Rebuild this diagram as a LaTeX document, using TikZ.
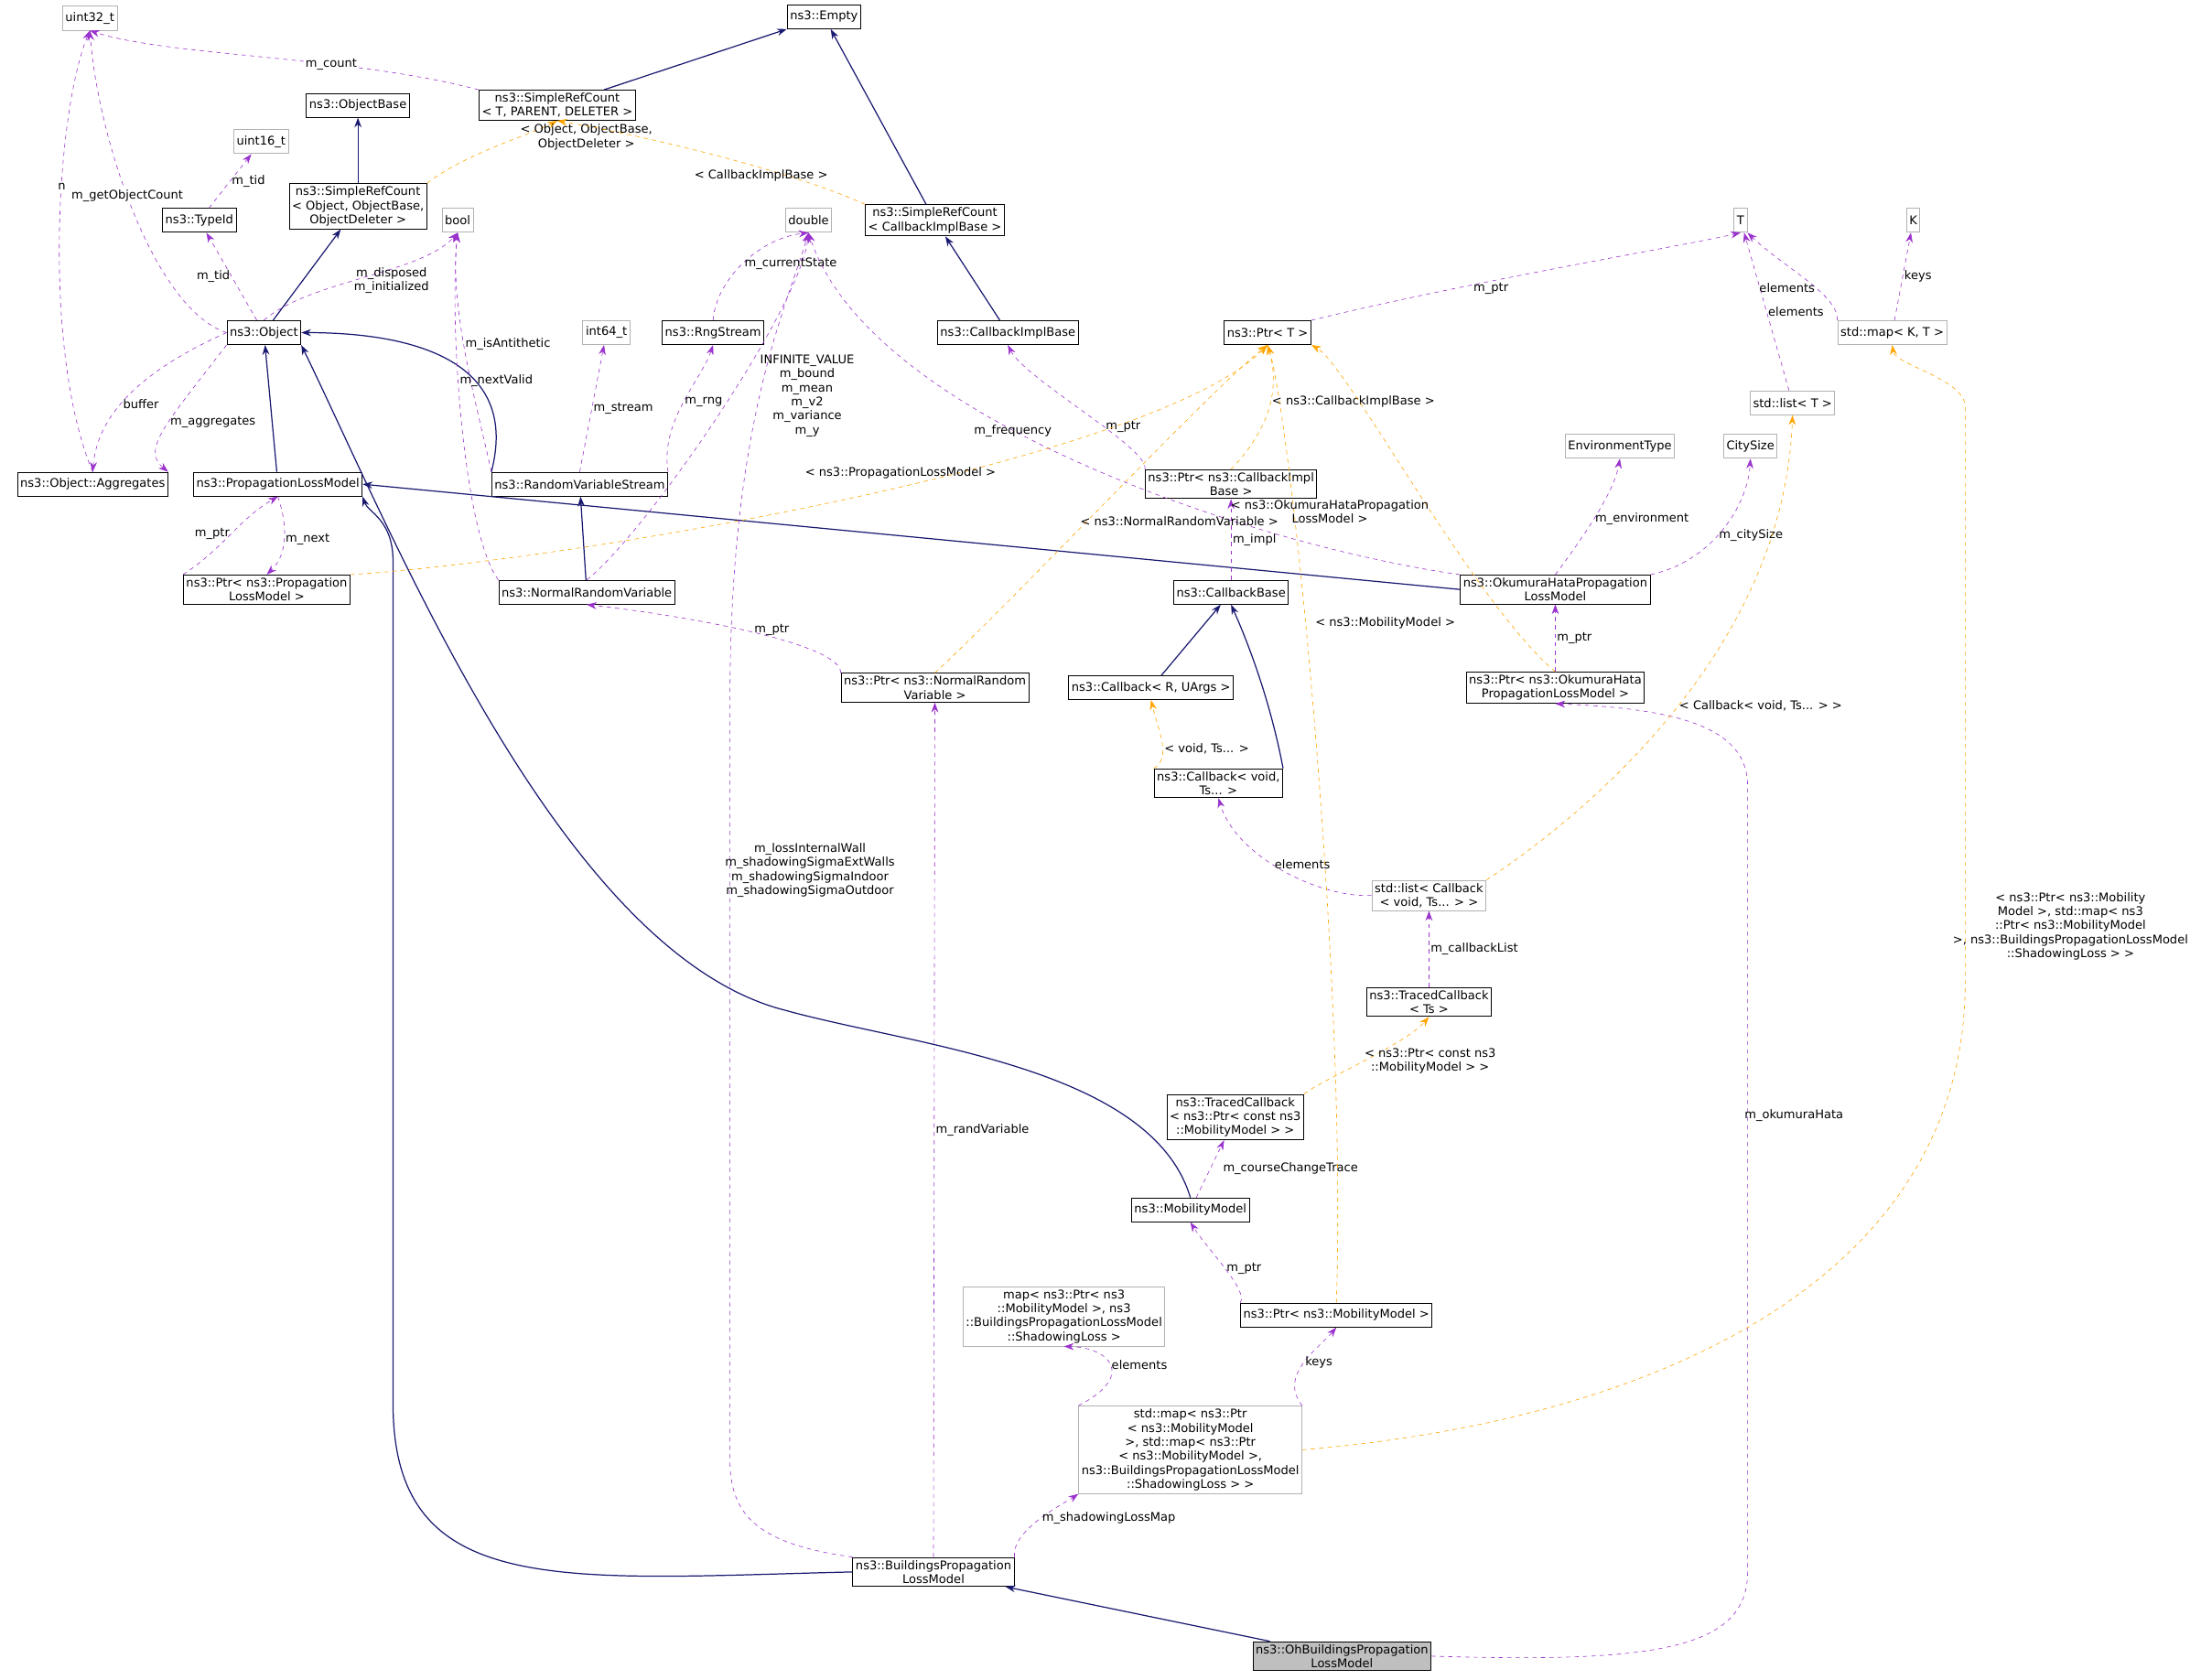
\documentclass[tikz,border=0pt]{standalone}
\usepackage{fontspec}
\setmainfont{DejaVu Sans}
\usetikzlibrary{arrows.meta, positioning}
\definecolor{depc}{HTML}{9A32CD}
\definecolor{inhc}{HTML}{191970}
\definecolor{tplc}{HTML}{FFA500}
\begin{document}
\begin{tikzpicture}[
x=1pt, y=-1pt,
      > = {Stealth[length=7pt, width=5pt]},
every node/.append style = {font=\fontsize{8.5}{10}\selectfont, align=center},
    B/.style = {draw, semithick, inner sep=2pt, minimum height=17pt},
    G/.style = {B, draw=black!30},
    L/.style = {inner sep=1pt},
  dep/.style = {->, draw=depc, dashed},
  inh/.style = {->, draw=inhc, thick},
  tpl/.style = {->, draw=tplc, dashed}
                    ]
\useasboundingbox (0,0) rectangle (1568,1197);
% classes
\node (u32)   [G] at (64,13)   {uint32\_t};
\node (empty) [B] at (587,12)  {ns3::Empty};
\node (src)   [B] at (397,75)  {ns3::SimpleRefCount\\< T, PARENT, DELETER >};
\node (obase) [B] at (255,75)  {ns3::ObjectBase};
\node (u16)   [G] at (186,101) {uint16\_t};
\node (tid)   [B] at (142,157) {ns3::TypeId};
\node (srco)  [B] at (255,147) {ns3::SimpleRefCount\\< Object, ObjectBase,\\ObjectDeleter >};
\node (bool)  [G] at (326,157) {bool};
\node (dbl)   [G] at (576,157) {double};
\node (srcc)  [B] at (666,157) {ns3::SimpleRefCount\\< CallbackImplBase >};
\node (T)     [G] at (1240,157) {T};
\node (K)     [G] at (1363,157) {K};
\node (obj)   [B] at (188,237) {ns3::Object};
\node (i64)   [G] at (432,237) {int64\_t};
\node (rng)   [B] at (508,237) {ns3::RngStream};
\node (cbib)  [B] at (718,237) {ns3::CallbackImplBase};
\node (ptrT)  [B] at (903,237) {ns3::Ptr< T >};
\node (mapKT) [G] at (1348,237) {std::map< K, T >};
\node (lstT)  [G] at (1277,287) {std::list< T >};
\node (aggr)  [B] at (66,345)  {ns3::Object::Aggregates};
\node (plm)   [B] at (198,345) {ns3::PropagationLossModel};
\node (rvs)   [B] at (413,345) {ns3::RandomVariableStream};
\node (pcbi)  [B] at (877,345) {ns3::Ptr< ns3::CallbackImpl\\Base >};
\node (env)   [G] at (1154,318) {EnvironmentType};
\node (city)  [G] at (1247,318) {CitySize};
\node (pplm)  [B] at (190,420) {ns3::Ptr< ns3::Propagation\\LossModel >};
\node (nrv)   [B] at (418,422) {ns3::NormalRandomVariable};
\node (cbb)   [B] at (877,422) {ns3::CallbackBase};
\node (ohp)   [B] at (1108,420) {ns3::OkumuraHataPropagation\\LossModel};
\node (pnrv)  [B] at (666,490) {ns3::Ptr< ns3::NormalRandom\\Variable >};
\node (cbru)  [B] at (820,490) {ns3::Callback< R, UArgs >};
\node (poh)   [B] at (1108,490) {ns3::Ptr< ns3::OkumuraHata\\PropagationLossModel >};
\node (cbv)   [B] at (868,558) {ns3::Callback< void,\\Ts... >};
\node (lstcb) [G] at (1018,638) {std::list< Callback\\< void, Ts... > >};
\node (trc)   [B] at (1018,714) {ns3::TracedCallback\\< Ts >};
\node (trmm)  [B] at (880,796) {ns3::TracedCallback\\< ns3::Ptr< const ns3\\::MobilityModel > >};
\node (mm)    [B] at (848,862) {ns3::MobilityModel};
\node (mapg)  [G] at (758,938) {map< ns3::Ptr< ns3\\::MobilityModel >, ns3\\::BuildingsPropagationLossModel\\::ShadowingLoss >};
\node (pmm)   [B] at (952,937) {ns3::Ptr< ns3::MobilityModel >};
\node (smap)  [G] at (848,1033) {std::map< ns3::Ptr\\< ns3::MobilityModel\\ >, std::map< ns3::Ptr\\< ns3::MobilityModel >,\\ ns3::BuildingsPropagationLossModel\\::ShadowingLoss > >};
\node (bplm)  [B] at (665,1120) {ns3::BuildingsPropagation\\LossModel};
\node (oh)    [B, fill=black!25] at (956,1180) {ns3::OhBuildingsPropagation\\LossModel};
% inheritance
\draw[inh] (src) -- (empty);
\draw[inh] (srco) -- (obase);
\draw[inh] (srcc) -- (empty);
\draw[inh] (obj) -- (srco);
\draw[inh] (plm) -- (obj);
\draw[inh] (rvs.north west) .. controls (370,260) and (300,237) .. (obj.east);
\draw[inh] (nrv) -- (rvs);
\draw[inh] (cbib) -- (srcc);
\draw[inh] (ohp.west) -- (plm.east);
\draw[inh] (cbru) -- (cbb);
\draw[inh] (cbv.north east) .. controls (905,500) and (890,460) .. (cbb.south);
\draw[inh] (mm.north) .. controls (820,760) and (650,745) .. (560,720)
                      .. controls (400,680) and (280,380) .. (obj.south east);
\draw[inh] (bplm.west) .. controls (400,1125) and (280,1140) .. (280,1000)
                       -- (280,400) .. controls (280,370) and (262,365) .. (plm.south east);
\draw[inh] (oh) -- (bplm);
% members
\draw[dep] (src.north west) .. controls (250,40) and (120,40) .. (u32.south) node[L, pos=.35, fill=white] {m\_count};
\draw[dep] (obj.west) .. controls (110,220) and (70,100) .. (u32.south) node[L, pos=.55, fill=white] {m\_getObjectCount};
\draw[dep] (aggr.north) .. controls (30,250) and (40,80) .. (u32.south) node[L, pos=.6, fill=white] {n};
\draw[dep] (tid) -- (u16) node[L, midway, right] {m\_tid};
\draw[dep] (obj) -- (tid) node[L, midway, left] {m\_tid};
\draw[dep] (obj.north) .. controls (220,200) and (300,195) .. (bool.south) node[L, pos=.45, right] {m\_disposed\\m\_initialized};
\draw[dep] (obj.west) .. controls (110,260) and (70,290) .. (aggr.north) node[L, pos=.6, right] {buffer};
\draw[dep] (obj.south west) .. controls (120,300) and (100,320) .. (aggr.north east) node[L, pos=.45, right] {m\_aggregates};
\draw[dep] (rvs.north west) .. controls (340,290) and (320,220) .. (bool.south) node[L, pos=.55, right] {m\_isAntithetic};
\draw[dep] (rvs.north) -- (i64) node[L, midway, right] {m\_stream};
\draw[dep] (rvs.north east) .. controls (470,300) and (500,270) .. (rng.south) node[L, pos=.5, right] {m\_rng};
\draw[dep] (rng.north) .. controls (510,200) and (540,170) .. (dbl.south) node[L, pos=.5, right] {m\_currentState};
\draw[dep] (nrv.north west) .. controls (330,380) and (320,230) .. (bool.south) node[L, pos=.6, right] {m\_nextValid};
\draw[dep] (nrv.north) .. controls (460,380) and (570,220) .. (dbl.south) node[L, pos=.55, right, xshift=20pt] {INFINITE\_VALUE\\m\_bound\\m\_mean\\m\_v2\\m\_variance\\m\_y};
\draw[dep] (pplm.north west) .. controls (160,390) and (170,370) .. (plm.south) node[L, pos=.5, left] {m\_ptr};
\draw[dep] (plm.south) .. controls (205,375) and (205,395) .. (pplm.north) node[L, pos=.5, right] {m\_next};
\draw[dep] (ptrT.north east) .. controls (1050,200) and (1200,175) .. (T.south) node[L, pos=.35, below] {m\_ptr};
\draw[dep] (pcbi.north west) .. controls (820,320) and (730,270) .. (cbib.south) node[L, pos=.4, right] {m\_ptr};
\draw[dep] (cbb) -- (pcbi) node[L, midway, right] {m\_impl};
\draw[dep] (ohp.north west) .. controls (900,390) and (620,300) .. (dbl.south) node[L, pos=.65, right, yshift=-18pt] {m\_frequency};
\draw[dep] (ohp.north) .. controls (1130,380) and (1150,350) .. (env.south) node[L, pos=.45, right] {m\_environment};
\draw[dep] (ohp.north east) .. controls (1220,400) and (1245,360) .. (city.south) node[L, pos=.45, right] {m\_citySize};
\draw[dep] (poh) -- (ohp) node[L, midway, right] {m\_ptr};
\draw[dep] (pnrv.north west) .. controls (600,460) and (500,440) .. (nrv.south) node[L, pos=.45, above] {m\_ptr};
\draw[dep] (lstcb.west) .. controls (940,640) and (880,610) .. (cbv.south) node[L, pos=.55, right] {elements};
\draw[dep] (lstT) -- (T) node[L, midway, right] {elements};
\draw[dep] (mapKT.north west) .. controls (1310,210) and (1270,190) .. (T.south east) node[L, pos=.4, left] {elements};
\draw[dep] (mapKT) -- (K) node[L, midway, right] {keys};
\draw[dep] (trc) -- (lstcb) node[L, midway, right] {m\_callbackList};
\draw[dep] (mm) -- (trmm) node[L, midway, right, xshift=8pt] {m\_courseChangeTrace};
\draw[dep] (pmm.north west) .. controls (890,920) and (860,890) .. (mm.south) node[L, pos=.5, right] {m\_ptr};
\draw[dep] (smap.north west) .. controls (810,980) and (790,960) .. (mapg.south) node[L, pos=.5, right] {elements};
\draw[dep] (smap.north east) .. controls (910,980) and (940,960) .. (pmm.south) node[L, pos=.5, right] {keys};
\draw[dep] (bplm.north east) .. controls (720,1090) and (760,1070) .. (smap.south west) node[L, pos=.5, right] {m\_shadowingLossMap};
\draw[dep] (bplm) -- (pnrv) node[L, pos=.5, right] {m\_randVariable};
\draw[dep] (bplm.north west) .. controls (540,1100) and (520,1080) .. (520,1040)
                             -- (520,500) .. controls (520,300) and (560,220) .. (dbl.south);
\node[L] at (577,620) {m\_lossInternalWall\\m\_shadowingSigmaExtWalls\\m\_shadowingSigmaIndoor\\m\_shadowingSigmaOutdoor};
\draw[dep] (oh.east) .. controls (1180,1185) and (1245,1175) .. (1245,1120)
                    -- (1245,560) .. controls (1245,520) and (1200,505) .. (poh.south);
\node[L] at (1278,795) {m\_okumuraHata};
% templates
\draw[tpl] (srco.north east) .. controls (330,110) and (380,95) .. (src.south) node[L, pos=.65, right] {< Object, ObjectBase,\\ObjectDeleter >};
\draw[tpl] (srcc.north west) .. controls (560,120) and (450,95) .. (src.south) node[L, pos=.35, below] {< CallbackImplBase >};
\draw[tpl] (pplm.north east) .. controls (400,400) and (820,330) .. (ptrT.south) node[L, pos=.55, above, yshift=4pt] {< ns3::PropagationLossModel >};
\draw[tpl] (pcbi.north) .. controls (910,300) and (910,270) .. (ptrT.south) node[L, pos=.5, right] {< ns3::CallbackImplBase >};
\draw[tpl] (poh.north) .. controls (1050,430) and (960,260) .. (ptrT.south east) node[L, pos=.45, left] {< ns3::OkumuraHataPropagation\\LossModel >};
\draw[tpl] (pnrv.north) .. controls (720,430) and (860,280) .. (ptrT.south) node[L, pos=.45, right, xshift=-6pt] {< ns3::NormalRandomVariable >};
\draw[tpl] (cbv.north west) .. controls (835,540) and (825,520) .. (cbru.south) node[L, pos=.4, right] {< void, Ts... >};
\draw[tpl] (lstcb.north east) .. controls (1100,600) and (1270,480) .. (lstT.south) node[L, pos=.55, right] {< Callback< void, Ts... > >};
\draw[tpl] (trmm.north east) .. controls (940,770) and (1000,745) .. (trc.south) node[L, pos=.5, right] {< ns3::Ptr< const ns3\\::MobilityModel > >};
\draw[tpl] (pmm.north) .. controls (960,700) and (920,300) .. (ptrT.south) node[L, pos=.6, right, xshift=6pt] {< ns3::MobilityModel >};
\draw[tpl] (smap.east) .. controls (1200,1010) and (1400,900) .. (1400,700)
                      -- (1400,290) .. controls (1400,270) and (1350,260) .. (mapKT.south);
\node[L] at (1475,660) {< ns3::Ptr< ns3::Mobility\\Model >, std::map< ns3\\::Ptr< ns3::MobilityModel\\ >, ns3::BuildingsPropagationLossModel\\::ShadowingLoss > >};
\end{tikzpicture}
\end{document}
